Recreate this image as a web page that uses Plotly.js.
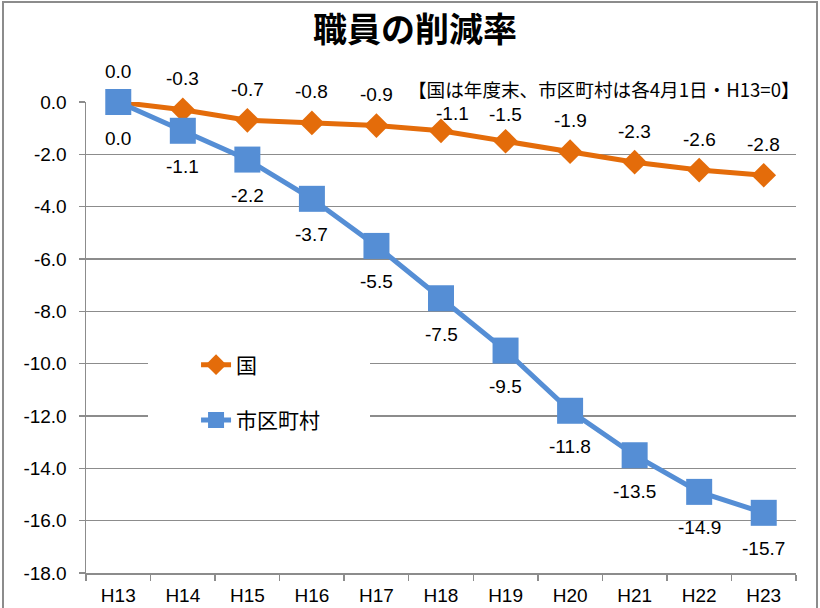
<!DOCTYPE html>
<html>
<head>
<meta charset="utf-8">
<script src="https://cdn.plot.ly/plotly-3.0.1.min.js"></script>
<style>
  html, body { margin: 0; padding: 0; background: #fff; }
  #wrap { position: relative; width: 820px; height: 608px; overflow: hidden; }
  #chart { width: 820px; height: 608px; }
  #frame { position: absolute; left: 2px; top: 1px; width: 816px; height: 640px;
           border: 2px solid #8c8c8c; pointer-events: none; box-sizing: border-box; }
</style>
</head>
<body>
<div id="wrap"><div id="chart"></div><div id="frame"></div></div>
<script>
// ---- data ----
const categories = ['H13','H14','H15','H16','H17','H18','H19','H20','H21','H22','H23'];
const kuniValues = [0.0, -0.3, -0.7, -0.8, -0.9, -1.1, -1.5, -1.9, -2.3, -2.6, -2.8];
const shikuValues = [0.0, -1.1, -2.2, -3.7, -5.5, -7.5, -9.5, -11.8, -13.5, -14.9, -15.7];
const yTickValues = [0, -2, -4, -6, -8, -10, -12, -14, -16, -18];
const yTickLabels = ['0.0', '-2.0', '-4.0', '-6.0', '-8.0', '-10.0', '-12.0', '-14.0', '-16.0', '-18.0'];
const seriesNames = ['国', '市区町村'];
const titleText = '職員の削減率';
const noteText = '【国は年度末、市区町村は各4月1日・H13=0】';

// ---- styles ----
const orange = '#E46C0A';
const blue = '#558ED5';
const grid = '#8c8c8c';
const numFont = 'Liberation Sans, Arial, sans-serif';
const cjkFont = '"Noto Sans CJK JP", "Noto Sans CJK SC", sans-serif';

const W = 820, H = 608;
const M = {l: 86, r: 24, t: 102, b: 35};
const yMin = -18, yMax = 0;
const plotH = H - M.t - M.b;
const pxPerUnit = plotH / (yMax - yMin);
const noteBottomPx = 114;   // labels below the note box are kept under it
const noteStartCat = 5;     // note box covers categories from this index on

const traces = [
  {
    x: categories, y: kuniValues, name: seriesNames[0], type: 'scatter', mode: 'lines+markers',
    line: {color: orange, width: 5}, marker: {symbol: 'diamond', size: 19, color: orange},
    cliponaxis: false, legendgroup: 'a'
  },
  {
    x: categories, y: shikuValues, name: seriesNames[1], type: 'scatter', mode: 'lines+markers',
    line: {color: blue, width: 5}, marker: {symbol: 'square', size: 26, color: blue},
    cliponaxis: false, legendgroup: 'b'
  }
];

const fmt = v => v.toFixed(1);
const annotations = [];
categories.forEach((c, i) => {
  const py = M.t + (yMax - kuniValues[i]) * pxPerUnit;
  let shift = 31;
  let xs = 0;
  if (i >= noteStartCat && py - shift < noteBottomPx) {
    const s2 = py - noteBottomPx;
    if (s2 < 22) xs = 11;
    shift = s2;
  }
  annotations.push({x: c, y: kuniValues[i], xref: 'x', yref: 'y', text: fmt(kuniValues[i]),
    showarrow: false, yshift: shift, xshift: xs, font: {family: numFont, size: 19, color: '#000'}});
  annotations.push({x: c, y: shikuValues[i], xref: 'x', yref: 'y', text: fmt(shikuValues[i]),
    showarrow: false, yshift: -36, font: {family: numFont, size: 19, color: '#000'}});
});
annotations.push({xref: 'paper', yref: 'paper', x: 1, y: 1.029, xanchor: 'right', yanchor: 'middle',
  xshift: 6, text: noteText, showarrow: false, font: {family: cjkFont, size: 18.6, color: '#000'}});

const layout = {
  width: W, height: H,
  margin: M,
  paper_bgcolor: '#fff', plot_bgcolor: '#fff',
  title: {text: titleText, x: 0.506, xref: 'container', y: 0.951, yref: 'container',
          xanchor: 'center', yanchor: 'middle',
          font: {family: cjkFont, size: 34, color: '#000', weight: 'bold'}},
  xaxis: {
    type: 'category', range: [-0.5, 10.5], tickson: 'boundaries', ticks: 'outside', ticklen: 6,
    tickcolor: grid, tickwidth: 1.5, showline: true, linecolor: grid, linewidth: 1.5,
    showgrid: false, tickfont: {family: numFont, size: 19, color: '#000'}, fixedrange: true,
    ticklabelstandoff: 5
  },
  yaxis: {
    range: [yMin, yMax], tickvals: yTickValues, ticktext: yTickLabels, ticks: 'outside', ticklen: 6,
    tickcolor: grid, tickwidth: 1.5, showline: true, linecolor: grid, linewidth: 1.5,
    showgrid: true, gridcolor: grid, gridwidth: 1.5, zeroline: false,
    tickfont: {family: numFont, size: 19, color: '#000'}, fixedrange: true,
    ticklabelstandoff: 8
  },
  showlegend: true,
  legend: {
    x: 0.155, y: 0.485, xanchor: 'left', yanchor: 'top', bgcolor: 'rgba(0,0,0,0)',
    traceorder: 'grouped', tracegroupgap: 25,
    font: {family: cjkFont, size: 21, color: '#000'}
  },
  shapes: [{type: 'rect', xref: 'paper', yref: 'paper', x0: (148-86)/710, x1: (370-86)/710,
            y0: (573-450)/471, y1: (573-338)/471, fillcolor: '#fff', line: {width: 0}, layer: 'above'}],
  annotations: annotations
};

Plotly.newPlot('chart', traces, layout, {displayModeBar: false, staticPlot: true});
</script>
</body>
</html>
